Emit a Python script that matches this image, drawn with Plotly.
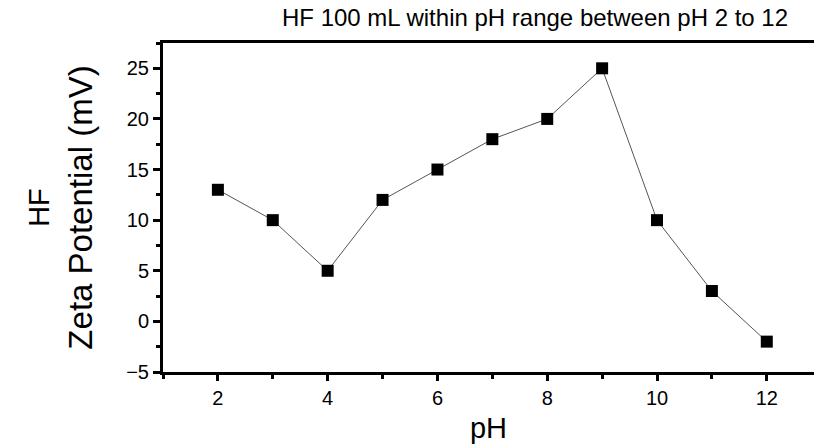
import plotly.graph_objects as go

# Zeta potential of HF (100 mL) across the pH range
ph = [2, 3, 4, 5, 6, 7, 8, 9, 10, 11, 12]
zeta_mv = [13, 10, 5, 12, 15, 18, 20, 25, 10, 3, -2]

title_text = "HF 100 mL within pH range between pH 2 to 12"
x_title = "pH"
y_title_top = "HF"
y_title_main = "Zeta Potential (mV)"

font_family = "Liberation Sans, Arial, sans-serif"

fig = go.Figure()
fig.add_trace(go.Scatter(
    x=ph,
    y=zeta_mv,
    mode="lines+markers",
    line=dict(color="#555555", width=1),
    marker=dict(symbol="square", size=12, color="black"),
    showlegend=False,
))

fig.update_layout(
    width=814,
    height=445,
    margin=dict(l=163, r=0, t=43, b=73),
    paper_bgcolor="white",
    plot_bgcolor="white",
    font=dict(family=font_family, color="black"),
    title=dict(
        text=title_text,
        x=535 / 814,
        xanchor="center",
        y=1 - 18 / 445,
        yanchor="middle",
        font=dict(size=24, color="black"),
    ),
)

fig.update_xaxes(
    range=[1, 12.86],
    tickmode="array",
    tickvals=[2, 4, 6, 8, 10, 12],
    ticks="outside",
    ticklen=6,
    tickwidth=3,
    tickcolor="black",
    minor=dict(dtick=1, tick0=1, ticks="outside", ticklen=4, tickwidth=3, tickcolor="black"),
    showline=True,
    linecolor="black",
    linewidth=3,
    mirror=True,
    showgrid=False,
    zeroline=False,
    tickfont=dict(size=20),
    title=dict(text=x_title, font=dict(size=29), standoff=10),
)

fig.update_yaxes(
    range=[-5, 27.5],
    tickmode="linear",
    tick0=-5,
    dtick=5,
    ticks="outside",
    ticklen=7,
    tickwidth=3,
    tickcolor="black",
    minor=dict(dtick=2.5, tick0=-5, ticks="outside", ticklen=4, tickwidth=3, tickcolor="black"),
    showline=True,
    linecolor="black",
    linewidth=3,
    mirror=False,
    showgrid=False,
    zeroline=False,
    tickfont=dict(size=20),
    title=dict(
        text=f"<span style='font-size:29px'>{y_title_top}</span><br>{y_title_main}",
        font=dict(size=33),
        standoff=24,
    ),
)

fig.write_html("out.html")
